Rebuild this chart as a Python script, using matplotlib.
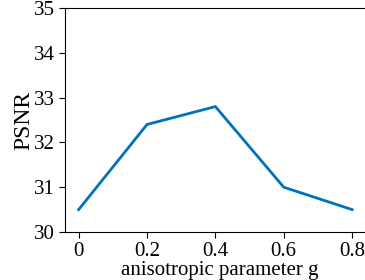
import matplotlib.pyplot as plt

# anisotropic parameter g vs PSNR
g_values = [0, 0.2, 0.4, 0.6, 0.8]
psnr = [30.5, 32.4, 32.8, 31.0, 30.5]

plt.rcParams['font.family'] = ['Liberation Serif', 'DejaVu Serif']

fig = plt.figure(figsize=(3.65, 2.8), dpi=100)
ax = fig.add_axes([65 / 365, 48 / 280, 310 / 365, 224 / 280])

ax.plot(g_values, psnr, color='#0072BD', linewidth=2)

ax.set_xlim(-0.04, 0.867)
ax.set_ylim(30, 35)
ax.set_xticks(g_values)
ax.set_xticklabels(['0', '0.2', '0.4', '0.6', '0.8'])
ax.set_yticks([30, 31, 32, 33, 34, 35])
ax.tick_params(labelsize=15, direction='out', length=4, pad=3)

ax.set_xlabel('anisotropic parameter g', fontsize=15, labelpad=0)
ax.set_ylabel('PSNR', fontsize=17, labelpad=0)

fig.savefig('out.png', dpi=100)
